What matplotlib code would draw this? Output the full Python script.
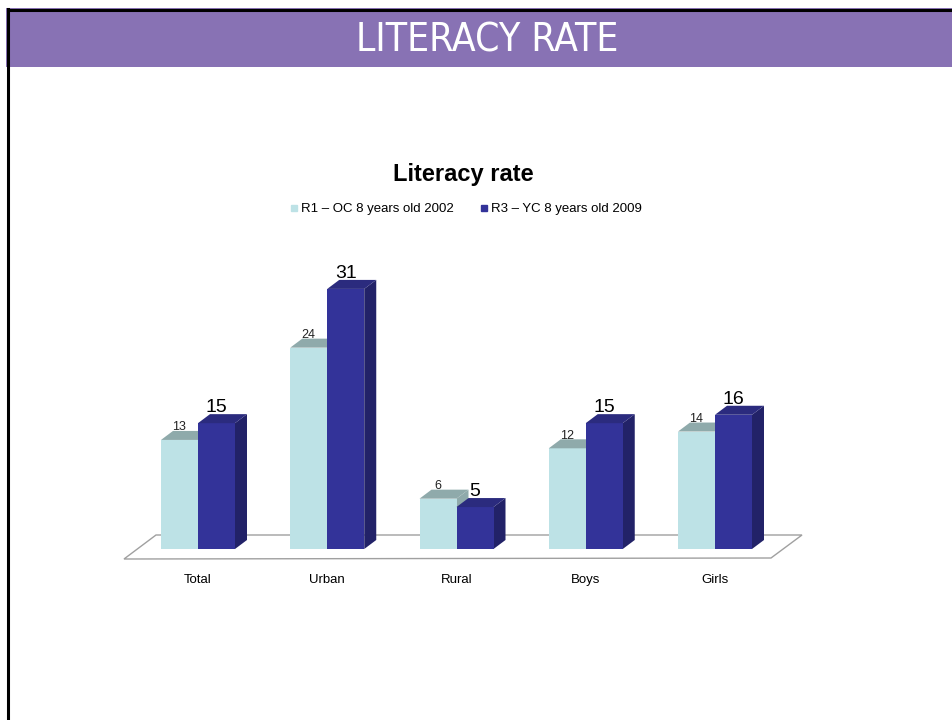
import matplotlib.pyplot as plt
from matplotlib.patches import Polygon, Rectangle
from matplotlib.lines import Line2D
from matplotlib import font_manager

categories = ['Total', 'Urban', 'Rural', 'Boys', 'Girls']
r1_2002 = [13, 24, 6, 12, 14]
r3_2009 = [15, 31, 5, 15, 16]
series_names = ['R1 \u2013 OC 8 years old 2002', 'R3 \u2013 YC 8 years old 2009']

W, H = 953, 720
plt.rcParams['font.family'] = ['Liberation Sans', 'DejaVu Sans']
fig = plt.figure(figsize=(W / 100, H / 100), dpi=100)


def fx(px):
    return px / W


def fy(py):
    return 1 - py / H


# condensed face for the slide heading, if one is installed
head_fp = None
for f in font_manager.fontManager.ttflist:
    if f.name in ('Liberation Sans Narrow', 'DejaVu Sans') and f.stretch in ('condensed', 'semi-condensed') \
            and f.style == 'normal' and f.weight in (400, 'normal'):
        head_fp = font_manager.FontProperties(fname=f.fname)
        if f.name == 'Liberation Sans Narrow':
            break
if head_fp is None:
    head_fp = font_manager.FontProperties(family='DejaVu Sans')

# slide header band and border
fig.add_artist(Rectangle((fx(6), fy(67)), fx(W - 6), 59 / H, transform=fig.transFigure,
                         facecolor='#8872b4', edgecolor='none'))
fig.add_artist(Line2D([fx(8), 1], [fy(10), fy(10)], transform=fig.transFigure,
                      color='black', lw=2.2))
fig.add_artist(Line2D([fx(8), fx(8)], [fy(9), 0], transform=fig.transFigure,
                      color='black', lw=2.2))
head_fp.set_size(28)
fig.text(fx(487), fy(40), 'LITERACY RATE', color='white', fontproperties=head_fp,
         ha='center', va='center')

# chart title + legend
fig.text(fx(463), fy(175), 'Literacy rate', fontsize=17, fontweight='bold',
         ha='center', va='center')

light, light_top = '#bde2e6', '#8faaab'
dark, dark_side, dark_top = '#333399', '#222268', '#2b2b7e'

handles = [Line2D([], [], marker='s', ls='none', color=light, markersize=5),
           Line2D([], [], marker='s', ls='none', color=dark, markersize=5)]
fig.legend(handles, series_names, loc='center', bbox_to_anchor=(fx(466), fy(209)),
           ncol=2, frameon=False, fontsize=9.5, handlelength=0.6, handletextpad=0.2,
           columnspacing=2.0)

# chart axes: x in category units, y in value units
px_x = 129.25
px_y = 8.39
ax = fig.add_axes([fx(100), fy(600), 730 / W, 340 / H])
ax.set_xlim((100 - 198) / px_x, (830 - 198) / px_x)
ax.set_ylim(-(600 - 549) / px_y, (549 - 260) / px_y)
ax.axis('off')

bw = 37 / px_x
dx = 12 / px_x
dy = 9 / px_y

# floor
floor = Polygon([(-74 / px_x, -10 / px_y), (573 / px_x, -9 / px_y),
                 (604 / px_x, 14 / px_y), (-42 / px_x, 14 / px_y)],
                closed=True, facecolor='white', edgecolor='#a0a0a0', lw=1.0, zorder=1)
ax.add_patch(floor)

x = list(range(len(categories)))
for i in x:
    # light bar
    x0 = i - bw
    h = r1_2002[i]
    ax.add_patch(Polygon([(x0 + bw, 0), (x0 + bw + dx, dy), (x0 + bw + dx, h + dy), (x0 + bw, h)],
                         facecolor=light_top, edgecolor='none', zorder=2))
    ax.bar(x0, h, width=bw, align='edge', color=light, zorder=3)
    ax.add_patch(Polygon([(x0, h), (x0 + bw, h), (x0 + bw + dx, h + dy), (x0 + dx, h + dy)],
                         facecolor=light_top, edgecolor='none', zorder=3))
    ax.text(x0 + bw / 2, h + dy * 0.75, str(h), fontsize=9, ha='center',
            va='bottom', color='#222222', zorder=6)
    # dark bar
    x1 = i
    h2 = r3_2009[i]
    ax.add_patch(Polygon([(x1 + bw, 0), (x1 + bw + dx, dy), (x1 + bw + dx, h2 + dy), (x1 + bw, h2)],
                         facecolor=dark_side, edgecolor='none', zorder=4))
    ax.bar(x1, h2, width=bw, align='edge', color=dark, zorder=4)
    ax.add_patch(Polygon([(x1, h2), (x1 + bw, h2), (x1 + bw + dx, h2 + dy), (x1 + dx, h2 + dy)],
                         facecolor=dark_top, edgecolor='none', zorder=4))
    ax.text(x1 + bw / 2, h2 + dy * 0.75, str(h2), fontsize=14, ha='center',
            va='bottom', color='black', zorder=6)
    ax.text(i, -31 / px_y, categories[i], fontsize=9.5, ha='center', va='center')

fig.savefig('out.png', dpi=100)
